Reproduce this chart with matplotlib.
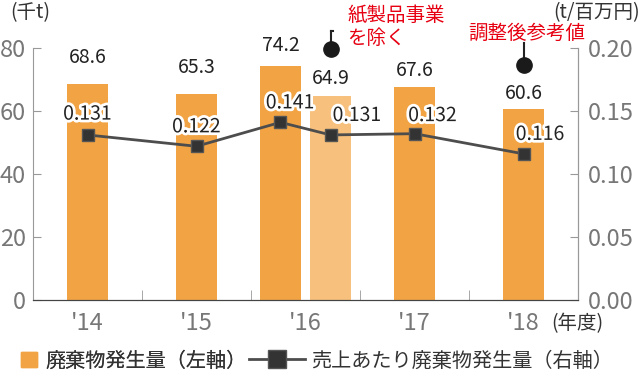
import matplotlib
matplotlib.use("Agg")
import matplotlib.pyplot as plt
import matplotlib.patheffects as pe
from matplotlib.patches import Patch
from matplotlib.lines import Line2D
from matplotlib.ticker import FormatStrFormatter, FixedLocator

plt.rcParams['font.family'] = ['Noto Sans CJK JP', 'DejaVu Sans']

# data
years = ["'14", "'15", "'16", "'17", "'18"]
bar_year = ["'14", "'15", "'16", "'16", "'17", "'18"]
waste = [68.6, 65.3, 74.2, 64.9, 67.6, 60.6]           # 千t (left axis)
intensity = [0.131, 0.122, 0.141, 0.131, 0.132, 0.116]  # t/百万円 (right axis)
adjusted = [False, False, False, True, False, False]

# layout / style
shift = [0, 0, -0.23, 0.23, 0, 0]
bar_lbl_dy = [19, 19, 15, 12, 12, 11]          # points above bar top
line_lbl_off = [(0, 15), (0, 14), (7, 14), (19, 14), (13, 13), (12, 14)]
ORANGE = '#f2a444'
LIGHT = '#f7c07c'
GRAY = '#777777'
RED = '#e60012'

xpos = [years.index(y) + s for y, s in zip(bar_year, shift)]

fig = plt.figure(figsize=(6.4, 3.7), dpi=100)
ax = fig.add_axes([33 / 640, 1 - 300 / 370, 545 / 640, 252 / 370])
ax2 = ax.twinx()

colors = [LIGHT if a else ORANGE for a in adjusted]
ax.bar(xpos, waste, width=0.37, color=colors, zorder=2)
for x, v, dy in zip(xpos, waste, bar_lbl_dy):
    ax.annotate(f"{v:.1f}", (x, v), xytext=(0, dy), textcoords='offset points',
                ha='center', va='center', fontsize=14, color='#222222')

ax.set_xlim(-0.5, len(years) - 0.5)
ax.set_ylim(0, 80)
ax.set_yticks([0, 20, 40, 60, 80])
ax.set_xticks(range(len(years)))
ax.set_xticklabels(years)
ax.xaxis.set_minor_locator(FixedLocator([0.5, 1.5, 2.5, 3.5]))

ax2.plot(xpos, intensity, color='#4d4d4d', lw=2, marker='s', ms=9,
         mfc='#333333', mec='#555555', zorder=3)
for x, v, off in zip(xpos, intensity, line_lbl_off):
    ax2.annotate(f"{v:.3f}", (x, v), xytext=off, textcoords='offset points',
                 ha='center', va='center', fontsize=14, color='#222222',
                 path_effects=[pe.withStroke(linewidth=4, foreground='white')],
                 zorder=4)
ax2.set_ylim(0, 0.2)
ax2.set_yticks([0, 0.05, 0.10, 0.15, 0.20])
ax2.yaxis.set_major_formatter(FormatStrFormatter('%.2f'))

for a in (ax, ax2):
    a.spines['top'].set_visible(False)
    for s in ('left', 'right'):
        a.spines[s].set_color('#999999')
    a.spines['bottom'].set_color('#444444')
ax2.spines['left'].set_visible(False)

ax.tick_params(axis='y', direction='in', length=6, color='#999999',
               labelcolor=GRAY, labelsize=17, pad=5)
ax2.tick_params(axis='y', direction='in', length=6, color='#999999',
                labelcolor=GRAY, labelsize=17, pad=7)
ax.tick_params(axis='x', which='major', length=0, labelcolor=GRAY,
               labelsize=17, pad=9)
ax.tick_params(axis='x', which='minor', direction='in', length=7,
               color='#999999')

# pins for the annotated bars
for xi, yc, ytop, hook in [(xpos[3], 79.7, 85.5, True), (xpos[5], 74.6, 81.6, False)]:
    ax.plot([xi, xi], [yc, ytop], color='#222222', lw=1.5, clip_on=False, zorder=5)
    if hook:
        ax.plot([xi, xi + 0.025], [ytop, ytop], color='#222222', lw=1.5,
                clip_on=False, zorder=5)
    ax.plot([xi], [yc], 'o', ms=11, color='#1a1a1a', clip_on=False, zorder=5)

fig.text(347 / 640, 1 - 15 / 370, "紙製品事業", color=RED, fontsize=14,
         ha='left', va='center')
fig.text(347 / 640, 1 - 38 / 370, "を除く", color=RED, fontsize=14,
         ha='left', va='center')
fig.text(468 / 640, 1 - 33 / 370, "調整後参考値", color=RED, fontsize=14,
         ha='left', va='center')

fig.text(10 / 640, 1 - 13 / 370, "(千t)", color='#333333', fontsize=14, ha='left', va='center')
fig.text(1, 1 - 13 / 370, "(t/百万円)", color='#333333', fontsize=14, ha='right', va='center')
fig.text(551 / 640, 1 - 324 / 370, "(年度)", color='#333333', fontsize=14, ha='left', va='center')

leg1 = fig.legend([Patch(color=ORANGE)], ["廃棄物発生量（左軸）"], loc='center left',
                  bbox_to_anchor=(21 / 640, 1 - 361 / 370), frameon=False,
                  fontsize=14.5, handlelength=0.8, handleheight=0.8,
                  handletextpad=0.4, borderpad=0, borderaxespad=0,
                  labelcolor='#333333')
line_handle = Line2D([], [], color='#4d4d4d', lw=2, marker='s', ms=13,
                     mfc='#333333', mec='#555555')
fig.legend([line_handle], ["売上あたり廃棄物発生量（右軸）"], loc='center left',
           bbox_to_anchor=(249 / 640, 1 - 361 / 370), frameon=False,
           fontsize=14.5, handlelength=2.8, handletextpad=0.3, borderpad=0,
           borderaxespad=0, labelcolor='#333333')
fig.add_artist(leg1)

fig.savefig('out.png', dpi=100)
